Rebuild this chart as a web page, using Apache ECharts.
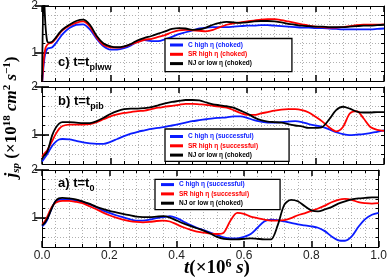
<!DOCTYPE html>
<html><head><meta charset="utf-8">
<script src="https://cdn.jsdelivr.net/npm/echarts@6/dist/echarts.min.js"></script>
<style>html,body{margin:0;padding:0;background:#fff}#c{width:390px;height:280px}</style>
</head><body><div id="c"></div>
<script>
// time grid (x 10^6 s)
const T = [0,0.005,0.01,0.015,0.02,0.03,0.04,0.05,0.06,0.08,0.1,0.12,0.14,0.16,0.18,0.2,0.22,0.24,0.26,0.28,0.3,0.32,0.34,0.36,0.38,0.4,0.42,0.44,0.46,0.48,0.5,0.52,0.54,0.56,0.58,0.6,0.62,0.64,0.66,0.68,0.7,0.72,0.74,0.76,0.78,0.8,0.82,0.84,0.86,0.88,0.9,0.92,0.94,0.96,0.98,1.0];

// panel c) t = t_plww
const cBlue  = [0.3,0.75,1.0,1.08,1.1,1.12,1.2,1.3,1.4,1.53,1.6,1.61,1.5,1.3,1.14,1.07,1.07,1.1,1.16,1.24,1.27,1.25,1.25,1.29,1.34,1.4,1.44,1.48,1.52,1.54,1.55,1.55,1.55,1.56,1.57,1.58,1.58,1.59,1.59,1.58,1.57,1.56,1.55,1.54,1.54,1.53,1.53,1.52,1.51,1.5,1.5,1.5,1.5,1.5,1.51,1.52];
const cRed   = [0.3,0.85,1.1,1.17,1.2,1.22,1.3,1.4,1.48,1.58,1.64,1.67,1.56,1.33,1.17,1.12,1.11,1.13,1.18,1.23,1.28,1.3,1.34,1.38,1.44,1.48,1.49,1.48,1.47,1.46,1.49,1.55,1.6,1.63,1.65,1.67,1.69,1.71,1.72,1.72,1.7,1.67,1.64,1.61,1.58,1.56,1.55,1.54,1.54,1.55,1.57,1.59,1.6,1.6,1.6,1.61];
const cBlack = [0.3,2.3,1.6,1.25,1.22,1.24,1.32,1.42,1.5,1.6,1.68,1.71,1.6,1.36,1.2,1.14,1.12,1.14,1.19,1.27,1.32,1.36,1.41,1.46,1.51,1.53,1.52,1.49,1.5,1.54,1.6,1.64,1.66,1.65,1.64,1.65,1.67,1.68,1.68,1.67,1.65,1.62,1.6,1.58,1.57,1.56,1.56,1.55,1.55,1.55,1.56,1.57,1.58,1.58,1.59,1.6];

// panel b) t = t_pib
const bBlue  = [0.45,0.5,0.55,0.6,0.66,0.78,0.86,0.91,0.92,0.91,0.88,0.85,0.83,0.82,0.82,0.86,0.92,0.98,1.03,1.07,1.1,1.13,1.15,1.17,1.2,1.23,1.26,1.29,1.31,1.33,1.35,1.36,1.37,1.39,1.39,1.36,1.31,1.28,1.26,1.26,1.27,1.28,1.29,1.27,1.23,1.2,1.17,1.12,1.06,1.02,1.0,1.01,1.02,1.04,1.07,1.1];
const bRed   = [0.55,0.6,0.64,0.68,0.75,0.88,1.02,1.13,1.19,1.22,1.22,1.22,1.23,1.27,1.33,1.39,1.43,1.46,1.48,1.5,1.51,1.54,1.57,1.59,1.61,1.63,1.65,1.65,1.64,1.63,1.61,1.59,1.57,1.52,1.46,1.42,1.42,1.45,1.48,1.51,1.53,1.54,1.54,1.52,1.47,1.38,1.28,1.16,1.08,1.17,1.45,1.5,1.35,1.17,1.11,1.09];
const bBlack = [0.5,0.56,0.6,0.65,0.75,1.0,1.15,1.24,1.27,1.27,1.26,1.25,1.25,1.29,1.36,1.44,1.5,1.54,1.55,1.55,1.56,1.58,1.62,1.66,1.69,1.71,1.73,1.73,1.72,1.68,1.64,1.62,1.6,1.57,1.51,1.45,1.37,1.31,1.28,1.27,1.26,1.23,1.2,1.18,1.15,1.15,1.17,1.33,1.52,1.59,1.55,1.49,1.47,1.47,1.48,1.48];

// panel a) t = t_0
const aBlue  = [0.83,0.86,0.9,0.96,1.05,1.22,1.35,1.38,1.39,1.39,1.37,1.34,1.29,1.23,1.16,1.11,1.06,1.02,0.98,0.95,0.95,0.97,1.0,1.02,1.04,1.0,0.93,0.86,0.8,0.75,0.7,0.65,0.6,0.58,0.58,0.61,0.67,0.8,0.93,0.97,0.96,0.93,0.9,0.87,0.85,0.83,0.8,0.73,0.62,0.54,0.53,0.62,0.82,0.98,1.07,1.11];
const aRed   = [0.88,0.9,0.95,1.02,1.1,1.24,1.32,1.35,1.36,1.36,1.34,1.31,1.25,1.19,1.12,1.06,1.01,0.97,0.94,0.92,0.91,0.92,0.94,0.95,0.93,0.87,0.81,0.76,0.72,0.7,0.68,0.67,0.7,0.95,1.11,1.09,1.03,1.0,0.97,0.95,0.95,0.96,1.0,1.06,1.1,1.15,1.2,1.26,1.33,1.38,1.4,1.38,1.33,1.31,1.3,1.31];
const aBlack = [0.85,0.88,0.92,0.98,1.05,1.22,1.35,1.41,1.42,1.41,1.39,1.35,1.3,1.24,1.19,1.15,1.12,1.09,1.06,1.03,1.02,1.02,1.03,1.04,1.01,0.95,0.89,0.84,0.79,0.74,0.68,0.61,0.57,0.56,0.56,0.57,0.58,0.57,0.56,0.56,0.85,1.28,1.38,1.35,1.25,1.16,1.14,1.18,1.23,1.3,1.35,1.39,1.41,1.42,1.43,1.43];

const yTickLabels = [1, 2];
const yMinor = [0.4,0.6,0.8,1.0,1.2,1.4,1.6,1.8,2.0];

const namesC = ['C high \u03b7 (choked)', 'SR high \u03b7 (choked)', 'NJ or low \u03b7 (choked)'];
const namesAB = ['C high \u03b7 (successful)', 'SR high \u03b7 (successful)', 'NJ or low \u03b7 (choked)'];
const colors = ['#0a1cff', '#ff0000', '#000000'];

const panels = [
  {top: 4,   data: [cBlue, cRed, cBlack], names: namesC,  label: ['c) t=t', 'plww'], labelY: 55.5, leg: {left: 165, top: 38.5, pad: [3, 40, 4.5, 5]}},
  {top: 87,  data: [bBlue, bRed, bBlack], names: namesAB, label: ['b) t=t', 'pib'],  labelY: 94.5, leg: {left: 165, top: 129, pad: [4, 31, 2.8, 5]}},
  {top: 170, data: [aBlue, aRed, aBlack], names: namesAB, label: ['a) t=t', '0'],    labelY: 176.5, leg: {left: 155, top: 179.3, pad: [1.8, 31, 3, 6]}}
];
const H = 77;

const grid = [], xAxis = [], yAxis = [], series = [], legend = [], graphic = [];
const dotted = {show: true, lineStyle: {color: '#b0b0b0', type: [1, 2], width: 1}};
panels.forEach((p, pi) => {
  grid.push({left: 42, right: 6, top: p.top, height: H});
  const isBottom = pi === panels.length - 1;
  ['bottom', 'top'].forEach((pos, k) => {
    xAxis.push({
      gridIndex: pi, type: 'value', min: 0, max: 1, interval: 0.2, position: pos,
      axisLine: {show: true, onZero: false, lineStyle: {color: '#000', width: 1}},
      axisTick: {show: true, inside: true, length: 6, lineStyle: {color: '#000', width: 1.5}},
      minorTick: {show: true, splitNumber: 5, length: 3, lineStyle: {color: '#000', width: 1}},
      splitLine: k === 0 ? dotted : {show: false},
      minorSplitLine: k === 0 ? dotted : {show: false},
      axisLabel: {show: isBottom && k === 0, formatter: v => v.toFixed(1), fontSize: 12, color: '#222', margin: 3, fontFamily: 'Liberation Sans'}
    });
  });
  ['left', 'right'].forEach((pos, k) => {
    yAxis.push({
      gridIndex: pi, type: 'value', min: 0.4, max: 2, interval: 0.2, position: pos,
      axisLine: {show: true, onZero: false, lineStyle: {color: '#000', width: 1}},
      axisTick: {show: true, inside: true, length: 3, lineStyle: {color: '#000', width: 1}, customValues: yMinor},
      splitLine: k === 0 ? dotted : {show: false},
      axisLabel: {show: k === 0, customValues: yTickLabels, formatter: v => String(Math.round(v)), fontSize: 12, color: '#222', margin: 4, fontFamily: 'Liberation Sans'}
    });
    yAxis.push({
      gridIndex: pi, type: 'value', min: 0.4, max: 2, interval: 0.2, position: pos,
      axisLine: {show: false},
      axisTick: {show: true, inside: true, length: 7, lineStyle: {color: '#000', width: 1.6}, customValues: yTickLabels},
      splitLine: {show: false},
      axisLabel: {show: false}
    });
  });
  p.data.forEach((arr, si) => {
    series.push({
      type: 'line', name: p.names[si], xAxisIndex: pi * 2, yAxisIndex: pi * 4,
      data: T.map((t, i) => [t, arr[i]]),
      showSymbol: false, symbol: 'none', smooth: 0.3, clip: true,
      lineStyle: {color: colors[si], width: 1.8}, itemStyle: {color: colors[si]},
      z: 2 + si
    });
  });
  legend.push({
    orient: 'vertical', left: p.leg.left, top: p.leg.top, padding: p.leg.pad,
    itemWidth: 13, itemHeight: 3, itemGap: 2.3, icon: 'rect', selectedMode: false,
    borderColor: '#000', borderWidth: 1.3, backgroundColor: '#fff',
    textStyle: {fontSize: 6.5, fontWeight: 'bold', fontFamily: 'Liberation Sans', lineHeight: 7},
    data: p.names.map((n, si) => ({name: n, textStyle: {color: colors[si]}}))
  });
  graphic.push({
    type: 'text', left: 58, top: p.labelY, z: 10,
    style: {
      text: '{m|' + p.label[0] + '}{s|' + p.label[1] + '}',
      rich: {
        m: {fontSize: 13, fontWeight: 'bold', fontFamily: 'Liberation Sans', lineHeight: 13, verticalAlign: 'top', fill: '#000'},
        s: {fontSize: 9, fontWeight: 'bold', fontFamily: 'Liberation Sans', lineHeight: 9, verticalAlign: 'top', padding: [8, 0, 0, 0], fill: '#000'}
      }
    }
  });
});

const serif = 'Liberation Serif';
graphic.push({
  type: 'text', x: 12, y: 117, rotation: Math.PI / 2, z: 10,
  style: {
    text: '{i|j}{sub|sp}{n| (\u00d710}{sup|18}{i| cm}{sup|2}{i| s}{sup|\u22121}{n|)}',
    align: 'center', verticalAlign: 'middle', textAlign: 'center', textVerticalAlign: 'middle',
    rich: {
      i: {fontSize: 17, fontStyle: 'italic', fontWeight: 'bold', fontFamily: serif, lineHeight: 20, fill: '#000'},
      n: {fontSize: 17, fontWeight: 'bold', fontFamily: serif, lineHeight: 20, fill: '#000'},
      sub: {fontSize: 11, fontStyle: 'italic', fontWeight: 'bold', fontFamily: serif, lineHeight: 11, verticalAlign: 'bottom', fill: '#000'},
      sup: {fontSize: 11, fontWeight: 'bold', fontFamily: serif, lineHeight: 11, verticalAlign: 'top', fill: '#000'}
    }
  }
});
graphic.push({
  type: 'text', x: 217, y: 268, z: 10,
  style: {
    text: '{i|t}{n|(\u00d710}{sup|6}{i| s}{n|)}',
    align: 'center', verticalAlign: 'middle', textAlign: 'center', textVerticalAlign: 'middle',
    rich: {
      i: {fontSize: 19, fontStyle: 'italic', fontWeight: 'bold', fontFamily: serif, lineHeight: 21, fill: '#000'},
      n: {fontSize: 19, fontWeight: 'bold', fontFamily: serif, lineHeight: 21, fill: '#000'},
      sup: {fontSize: 12, fontWeight: 'bold', fontFamily: serif, lineHeight: 12, verticalAlign: 'top', fill: '#000'}
    }
  }
});

const chart = echarts.init(document.getElementById('c'), null, {renderer: 'canvas'});
chart.setOption({animation: false, backgroundColor: '#fff', grid, xAxis, yAxis, series, legend, graphic});
</script></body></html>
